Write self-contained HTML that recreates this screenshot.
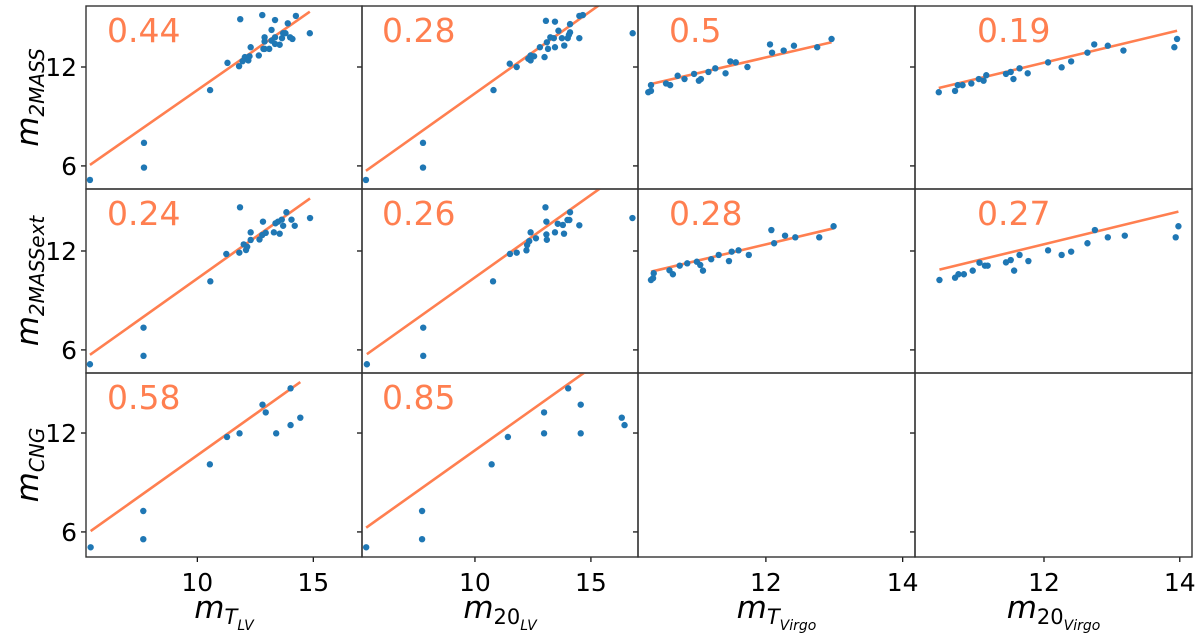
<!DOCTYPE html>
<html><head><meta charset="utf-8">
<style>
html,body{margin:0;padding:0;background:#fff;}
svg{display:block;font-family:"DejaVu Sans","Liberation Sans",sans-serif;}
</style></head>
<body>
<svg id="chart" width="1200" height="638" viewBox="0 0 1200 638" xmlns="http://www.w3.org/2000/svg"></svg>
<script>
// ---- data (per panel: x values, y values) ----
const p11x=[5.37,7.7,7.7,10.55,11.3,11.8,11.85,12.8,13.35,14.25,14.85,13.9,12.3,12.05,12.2,11.95,12.25,12.65,12.85,12.9,12.9,13.1,12.9,13.2,13.35,13.55,13.65,13.7,13.35,14.0,14.1,13.8,13.2];
const p11y=[5.15,7.4,5.9,10.6,12.25,12.05,14.9,15.15,14.85,15.1,14.05,14.65,13.2,12.6,12.4,12.35,12.65,12.7,13.1,13.8,13.1,13.1,13.55,14.25,13.4,13.35,13.75,14.05,13.8,13.8,13.7,14.05,13.6];
const p12x=[5.3,7.76,7.76,10.8,11.5,11.8,13.0,12.3,12.4,12.55,12.4,12.8,13.1,13.25,13.06,13.45,13.4,13.15,13.45,13.6,13.75,14.0,14.1,14.05,13.85,14.1,14.5,14.5,14.65,16.8];
const p12y=[5.15,7.4,5.9,10.6,12.2,12.0,12.6,12.5,12.7,12.65,12.4,13.2,13.5,13.8,14.8,14.75,13.75,13.1,13.2,14.2,13.75,13.75,14.1,13.95,13.3,14.6,13.75,15.1,15.15,14.05];
const p13x=[10.28,10.32,10.32,10.54,10.6,10.71,10.81,10.95,11.02,11.05,11.16,11.26,11.41,11.48,11.56,11.73,12.06,12.09,12.26,12.41,12.75,12.96];
const p13y=[10.47,10.55,10.9,11.0,10.9,11.47,11.27,11.58,11.17,11.27,11.7,11.92,11.62,12.34,12.28,12.0,13.37,12.87,13.0,13.29,13.2,13.7];
const p14x=[10.45,10.69,10.73,10.8,10.93,11.04,11.11,11.15,11.44,11.51,11.55,11.64,11.76,12.06,12.26,12.4,12.64,12.74,12.94,13.17,13.92,13.96];
const p14y=[10.47,10.55,10.9,10.9,11.0,11.27,11.17,11.5,11.58,11.7,11.27,11.92,11.62,12.28,11.98,12.34,12.87,13.37,13.29,13.0,13.2,13.7];
const p21x=[5.37,7.68,7.68,10.56,11.25,11.81,11.84,12.1,12.0,12.15,12.3,12.3,12.68,12.8,12.95,12.83,13.3,13.55,13.37,13.48,13.64,13.7,13.84,14.06,14.2,14.86];
const p21y=[5.13,7.35,5.64,10.16,11.82,11.9,14.65,12.06,12.4,12.26,12.67,13.13,12.7,12.97,13.1,13.78,13.13,13.05,13.68,13.78,13.9,13.53,14.35,13.9,13.53,14.0];
const p22x=[5.34,7.77,7.77,10.78,11.51,11.8,12.22,12.25,12.34,12.4,12.63,13.04,13.08,13.08,13.1,13.45,13.57,13.79,13.84,13.99,14.1,14.07,14.5,16.79];
const p22y=[5.13,7.35,5.64,10.16,11.82,11.9,12.04,12.36,12.6,13.13,12.77,14.65,13.78,13.0,12.68,13.13,13.65,13.58,13.05,13.88,14.35,13.88,13.56,14.0];
const p23x=[10.32,10.35,10.36,10.59,10.64,10.74,10.85,10.99,11.04,11.08,11.2,11.31,11.46,11.5,11.6,11.75,12.08,12.12,12.28,12.43,12.78,12.99];
const p23y=[10.24,10.35,10.65,10.83,10.59,11.11,11.25,11.35,11.15,10.81,11.5,11.76,11.39,11.96,12.04,11.76,13.27,12.47,12.93,12.83,12.83,13.5];
const p24x=[10.46,10.69,10.74,10.82,10.95,11.05,11.13,11.17,11.44,11.51,11.56,11.64,11.77,12.06,12.26,12.4,12.64,12.75,12.94,13.19,13.94,13.98];
const p24y=[10.24,10.38,10.59,10.59,10.81,11.29,11.11,11.11,11.31,11.45,10.81,11.76,11.39,12.04,11.76,11.96,12.47,13.27,12.83,12.93,12.83,13.5];
const p31x=[5.4,7.67,7.67,10.54,11.28,11.82,12.81,12.95,13.4,14.02,14.02,14.44];
const p31y=[5.07,7.27,5.56,10.1,11.76,11.98,13.72,13.25,11.98,12.48,14.71,12.93];
const p32x=[5.31,7.72,7.72,10.72,11.42,12.98,12.98,14.02,14.56,14.56,16.33,16.45];
const p32y=[5.07,7.27,5.56,10.1,11.76,13.25,11.98,14.71,13.72,11.98,12.93,12.48];
// fit line coefficients (slope, intercept) and printed scores
const fitSlopes=[0.98,1.0,0.96,0.99, 1.0,1.0,0.985,1.0, 1.0,1.0];
const fitIntercepts=[0.8,0.4,1.06,0.38, 0.33,0.4,0.58,0.41, 0.65,0.95];
const scoreLabels=["0.44","0.28","0.5","0.19","0.24","0.26","0.28","0.27","0.58","0.85"];
const xTickLabels=[[10,15],[10,15],[12,14],[12,14]];
const yTickLabels=[6,12];
const rowTitles=[["m","2MASS"],["m","2MASSext"],["m","CNG"]];
const colTitles=[["m","T","LV"],["m","20","LV"],["m","T","Virgo"],["m","20","Virgo"]];

const panels=[
 [p11x,p11y],[p12x,p12y],[p13x,p13y],[p14x,p14y],
 [p21x,p21y],[p22x,p22y],[p23x,p23y],[p24x,p24y],
 [p31x,p31y],[p32x,p32y],null,null];

const colEdges=[86,362,638,915,1192];
const rowEdges=[6,189,373,557];
const xDomains=[[5.2,17.1],[5.13,17.03],[10.13,14.18],[10.1,14.18]];
const yDomains=[[4.6,15.7],[4.6,15.76],[4.48,15.64]];
const labelX=[107,382,669,977];

const NS="http://www.w3.org/2000/svg";
const svg=document.getElementById('chart');
function mk(tag,attrs,parent){const e=document.createElementNS(NS,tag);for(const k in attrs)e.setAttribute(k,attrs[k]);(parent||svg).appendChild(e);return e;}

const defs=mk('defs',{});
let fitIdx=0;
for(let r=0;r<3;r++){
 for(let c=0;c<4;c++){
  const x0=colEdges[c],x1=colEdges[c+1],y0=rowEdges[r],y1=rowEdges[r+1];
  const xd=xDomains[c],yd=yDomains[r];
  const sx=v=>x0+(v-xd[0])/(xd[1]-xd[0])*(x1-x0);
  const sy=v=>y1-(v-yd[0])/(yd[1]-yd[0])*(y1-y0);
  const g=mk('g',{});
  
  
  const cp=mk('clipPath',{id:'clip'+r+c},defs);
  mk('rect',{x:x0,y:y0,width:x1-x0,height:y1-y0},cp);
  const p=panels[r*4+c];
  if(p){
   const xs=p[0],ys=p[1];
   const mn=Math.min(...xs),mx=Math.max(...xs);
   const k=fitIdx;
   const line=mk('line',{x1:sx(mn),y1:sy(fitSlopes[k]*mn+fitIntercepts[k]),x2:sx(mx),y2:sy(fitSlopes[k]*mx+fitIntercepts[k]),stroke:'#ff7f50','stroke-width':2.6,'clip-path':'url(#clip'+r+c+')'},g);
   
   
   const pg=mk('g',{'clip-path':'url(#clip'+r+c+')'},g);
   
   
   for(let i=0;i<xs.length;i++){
    const pt=mk('circle',{cx:sx(xs[i]),cy:sy(ys[i]),r:3.2,fill:'#1f77b4'},pg);
    
    
   }
   const t=mk('text',{x:labelX[c],y:y0+36,'font-size':33,fill:'#ff7f50'},g);
   t.textContent=scoreLabels[k];
   
   
   fitIdx++;
  }
  for(const v of yTickLabels){
   const yy=sy(v);
   mk('line',{x1:x0-5,y1:yy,x2:x0,y2:yy,stroke:'#000','stroke-width':1.2},g);
   if(c===0){
    const tl=mk('text',{x:x0-9,y:yy+9,'font-size':25,'text-anchor':'end',fill:'#000'},g);
    tl.textContent=v;
    
    
   }
  }
  if(r===2){
   for(const v of xTickLabels[c]){
    const xx=sx(v);
    mk('line',{x1:xx,y1:y1,x2:xx,y2:y1+5,stroke:'#000','stroke-width':1.2},g);
    const tl=mk('text',{x:xx,y:y1+34,'font-size':25,'text-anchor':'middle',fill:'#000'},g);
    tl.textContent=v;
    
    
   }
  }
  const fr=mk('rect',{x:x0,y:y0,width:x1-x0,height:y1-y0,fill:'none',stroke:'#333','stroke-width':1.4},g);
  
  
 }
}
for(let r=0;r<3;r++){
 const cy=(rowEdges[r]+rowEdges[r+1])/2;
 const t=mk('text',{x:0,y:0,transform:'translate(38,'+cy+') rotate(-90)','text-anchor':'middle','font-size':31,'font-style':'italic',fill:'#000'});
 
 
 const a=mk('tspan',{},t);a.textContent=rowTitles[r][0];
 const b=mk('tspan',{'font-size':20,dy:6},t);b.textContent=rowTitles[r][1];
}
for(let c=0;c<4;c++){
 const cx=(colEdges[c]+colEdges[c+1])/2;
 const t=mk('text',{x:cx,y:618,'text-anchor':'middle','font-size':31,'font-style':'italic',fill:'#000'});
 
 
 const a=mk('tspan',{},t);a.textContent=colTitles[c][0];
 const b=mk('tspan',{'font-size':21,dy:6,'font-style':colTitles[c][1]==='T'?'italic':'normal'},t);b.textContent=colTitles[c][1];
 const d=mk('tspan',{'font-size':14,dy:6},t);d.textContent=colTitles[c][2];
}
</script>
</body></html>
